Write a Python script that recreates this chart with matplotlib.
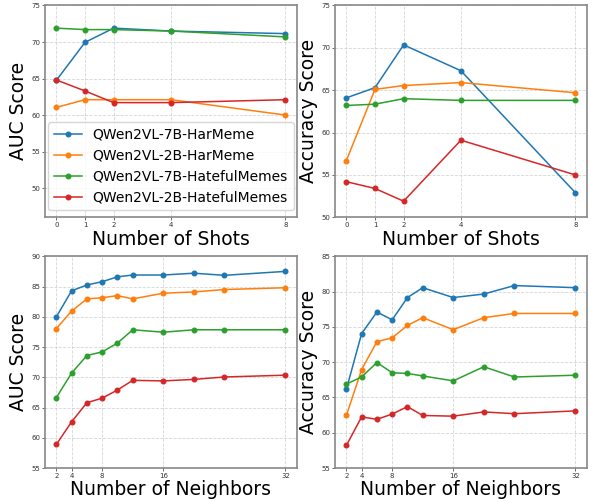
import matplotlib
matplotlib.use("Agg")
import matplotlib.pyplot as plt

# x positions
shots = [0, 1, 2, 4, 8]
neighbors = [2, 4, 6, 8, 10, 12, 16, 20, 24, 32]

series_names = [
    "QWen2VL-7B-HarMeme",
    "QWen2VL-2B-HarMeme",
    "QWen2VL-7B-HatefulMemes",
    "QWen2VL-2B-HatefulMemes",
]
colours = ["#1f77b4", "#ff7f0e", "#2ca02c", "#d62728"]

# few-shot AUC
shots_auc_7b_har = [64.75, 69.95, 71.9, 71.5, 71.15]
shots_auc_2b_har = [61.05, 62.1, 62.1, 62.1, 60.0]
shots_auc_7b_hate = [71.9, 71.7, 71.7, 71.5, 70.7]
shots_auc_2b_hate = [64.8, 63.3, 61.7, 61.7, 62.1]

# few-shot accuracy
shots_acc_7b_har = [64.1, 65.3, 70.35, 67.3, 52.9]
shots_acc_2b_har = [56.7, 65.1, 65.55, 65.9, 64.7]
shots_acc_7b_hate = [63.2, 63.35, 64.0, 63.8, 63.8]
shots_acc_2b_hate = [54.2, 53.4, 51.9, 59.1, 55.0]

# neighbors AUC
nb_auc_7b_har = [80.0, 84.3, 85.25, 85.8, 86.6, 86.9, 86.9, 87.2, 86.85, 87.5]
nb_auc_2b_har = [78.05, 80.95, 82.95, 83.15, 83.5, 82.95, 83.9, 84.1, 84.5, 84.8]
nb_auc_7b_hate = [66.65, 70.7, 73.6, 74.2, 75.65, 77.85, 77.45, 77.85, 77.85, 77.85]
nb_auc_2b_hate = [58.9, 62.65, 65.8, 66.55, 67.9, 69.5, 69.4, 69.65, 70.05, 70.35]

# neighbors accuracy
nb_acc_7b_har = [66.15, 74.05, 77.1, 76.0, 79.15, 80.55, 79.15, 79.65, 80.85, 80.55]
nb_acc_2b_har = [62.45, 68.95, 72.9, 73.45, 75.2, 76.3, 74.6, 76.3, 76.9, 76.9]
nb_acc_7b_hate = [66.9, 67.9, 69.95, 68.5, 68.4, 68.05, 67.35, 69.35, 67.9, 68.15]
nb_acc_2b_hate = [58.2, 62.25, 61.9, 62.65, 63.7, 62.45, 62.35, 62.95, 62.7, 63.1]


def _style_axes(ax):
    ax.grid(True, linestyle="--", color="#cccccc", linewidth=0.6, alpha=0.8)
    for sp in ax.spines.values():
        sp.set_color("#888888")
        sp.set_linewidth(1.2)
    ax.tick_params(labelsize=5, length=2, width=0.5, colors="#333333", pad=1.5)


def _draw(ax, x, data, xticks, ylim, ylabel, xlabel):
    for name, ys, c in zip(series_names, data, colours):
        ax.plot(x, ys, color=c, marker="o", markersize=3.3, linewidth=1.1, label=name)
    ax.set_xticks(xticks)
    ax.set_ylim(*ylim)
    ax.set_ylabel(ylabel, fontsize=13.5, labelpad=2)
    ax.set_xlabel(xlabel, fontsize=13.5, labelpad=1)
    _style_axes(ax)


fig, axes = plt.subplots(2, 2, figsize=(5.91, 4.99), dpi=100)
fig.subplots_adjust(left=0.076, right=0.993, top=0.989, bottom=0.062,
                    wspace=0.151, hspace=0.184)

_draw(axes[0][0], shots,
      [shots_auc_7b_har, shots_auc_2b_har, shots_auc_7b_hate, shots_auc_2b_hate],
      shots, (46.0, 75), "AUC Score", "Number of Shots")
axes[0][0].legend(loc="lower center", fontsize=10)

_draw(axes[0][1], shots,
      [shots_acc_7b_har, shots_acc_2b_har, shots_acc_7b_hate, shots_acc_2b_hate],
      shots, (50, 75), "Accuracy Score", "Number of Shots")

_draw(axes[1][0], neighbors,
      [nb_auc_7b_har, nb_auc_2b_har, nb_auc_7b_hate, nb_auc_2b_hate],
      [2, 4, 8, 16, 32], (55, 90), "AUC Score", "Number of Neighbors")

_draw(axes[1][1], neighbors,
      [nb_acc_7b_har, nb_acc_2b_har, nb_acc_7b_hate, nb_acc_2b_hate],
      [2, 4, 8, 16, 32], (55, 85), "Accuracy Score", "Number of Neighbors")

fig.savefig("out.png", dpi=100)
plt.close(fig)
